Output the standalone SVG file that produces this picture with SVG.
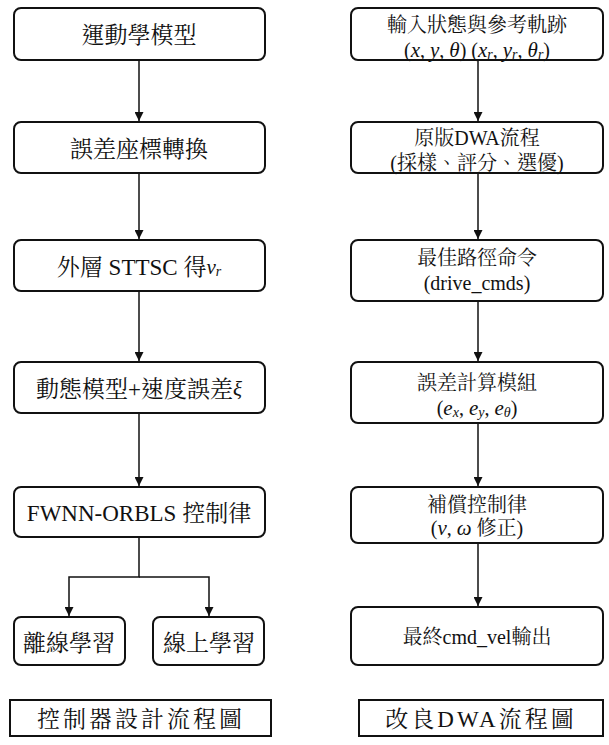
<svg xmlns="http://www.w3.org/2000/svg" width="609" height="745" viewBox="0 0 609 745">
<style>
.box{fill:#fff;stroke:#111;stroke-width:2}
.cap{fill:#fff;stroke:#111;stroke-width:2}
.t{font-family:"Liberation Serif","Noto Serif CJK TC","Noto Sans CJK TC",serif;fill:#111;text-anchor:middle;dominant-baseline:central}
.e{font-family:"Liberation Serif",serif}
.l{font-size:23px}
.r{font-size:20px}
.c{font-size:23px;letter-spacing:3px}
.m{font-family:"Liberation Serif",serif;font-style:italic;font-size:21px}
.s{font-family:"Liberation Serif",serif;font-size:14px;font-style:italic}
.line{stroke:#111;stroke-width:1.5;fill:none}
</style>
<defs>
<marker id="ah" viewBox="0 0 10 10" refX="10" refY="5" markerWidth="9" markerHeight="9" markerUnits="userSpaceOnUse" orient="auto">
<path d="M0,0 L10,5 L0,10 z" fill="#111"/>
</marker>
</defs>
<rect width="609" height="745" fill="#fff"/>
<g id="connectors">
<line class="line" x1="139" y1="60" x2="139" y2="121" marker-end="url(#ah)"/>
<line class="line" x1="139" y1="173" x2="139" y2="239" marker-end="url(#ah)"/>
<line class="line" x1="139" y1="291" x2="139" y2="361" marker-end="url(#ah)"/>
<line class="line" x1="139" y1="413" x2="139" y2="486" marker-end="url(#ah)"/>
<polyline class="line" points="139,537 139,577 69,577 69,616" marker-end="url(#ah)"/>
<polyline class="line" points="139,577 209,577 209,616" marker-end="url(#ah)"/>
<line class="line" x1="478" y1="60" x2="478" y2="121" marker-end="url(#ah)"/>
<line class="line" x1="478" y1="173" x2="478" y2="239" marker-end="url(#ah)"/>
<line class="line" x1="478" y1="301" x2="478" y2="361" marker-end="url(#ah)"/>
<line class="line" x1="478" y1="423" x2="478" y2="486" marker-end="url(#ah)"/>
<line class="line" x1="478" y1="543" x2="478" y2="606" marker-end="url(#ah)"/>
</g>
<g id="L1"><rect class="box" x="14" y="8" width="251" height="52" rx="7"/><text class="t l" x="139" y="35">運動學模型</text></g>
<g id="L2"><rect class="box" x="14" y="122" width="251" height="51" rx="7"/><text class="t l" x="139" y="149">誤差座標轉換</text></g>
<g id="L3"><rect class="box" x="14" y="240" width="251" height="51" rx="7"/><text class="t l" x="139" y="267">外層<tspan class="e"> STTSC </tspan>得<tspan class="m">v</tspan><tspan class="s" dy="4">r</tspan></text></g>
<g id="L4"><rect class="box" x="14" y="362" width="251" height="51" rx="7"/><text class="t l" x="139" y="389">動態模型<tspan class="e">+</tspan>速度誤差<tspan class="m">ξ</tspan></text></g>
<g id="L5"><rect class="box" x="14" y="487" width="251" height="50" rx="7"/><text class="t l" x="139" y="513"><tspan class="e">FWNN-ORBLS </tspan>控制律</text></g>
<g id="L6"><rect class="box" x="14" y="617" width="111" height="48" rx="7"/><text class="t l" x="69" y="643">離線學習</text></g>
<g id="L7"><rect class="box" x="153" y="617" width="111" height="48" rx="7"/><text class="t l" x="209" y="643">線上學習</text></g>
<g id="capL"><rect class="cap" x="10" y="700" width="261" height="36"/><text class="t c" x="141" y="719">控制器設計流程圖</text></g>
<g id="R1"><rect class="box" x="351" y="8" width="252" height="52" rx="7"/><text class="t r" x="477" y="25">輸入狀態與參考軌跡</text><text class="t r" x="477" y="50"><tspan class="e">(</tspan><tspan class="m">x</tspan><tspan class="e">, </tspan><tspan class="m">y</tspan><tspan class="e">, </tspan><tspan class="m">θ</tspan><tspan class="e">) (</tspan><tspan class="m">x</tspan><tspan class="s" dy="4">r</tspan><tspan class="e" dy="-4">, </tspan><tspan class="m">y</tspan><tspan class="s" dy="4">r</tspan><tspan class="e" dy="-4">, </tspan><tspan class="m">θ</tspan><tspan class="s" dy="4">r</tspan><tspan class="e" dy="-4">)</tspan></text></g>
<g id="R2"><rect class="box" x="351" y="122" width="252" height="51" rx="7"/><text class="t r" x="477" y="138">原版<tspan class="e">DWA</tspan>流程</text><text class="t r" x="477" y="163"><tspan class="e">(</tspan>採樣、評分、選優<tspan class="e">)</tspan></text></g>
<g id="R3"><rect class="box" x="351" y="240" width="252" height="61" rx="7"/><text class="t r" x="477" y="258">最佳路徑命令</text><text class="t r e" x="477" y="283">(drive_cmds)</text></g>
<g id="R4"><rect class="box" x="351" y="362" width="252" height="61" rx="7"/><text class="t r" x="477" y="383">誤差計算模組</text><text class="t r" x="477" y="408"><tspan class="e">(</tspan><tspan class="m">e</tspan><tspan class="s" dy="4">x</tspan><tspan class="e" dy="-4">, </tspan><tspan class="m">e</tspan><tspan class="s" dy="4">y</tspan><tspan class="e" dy="-4">, </tspan><tspan class="m">e</tspan><tspan class="s" dy="4">θ</tspan><tspan class="e" dy="-4">)</tspan></text></g>
<g id="R5"><rect class="box" x="351" y="487" width="252" height="56" rx="7"/><text class="t r" x="477" y="505">補償控制律</text><text class="t r" x="477" y="528"><tspan class="e">(</tspan><tspan class="m">v</tspan><tspan class="e">, </tspan><tspan class="m">ω</tspan><tspan class="e"> </tspan>修正<tspan class="e">)</tspan></text></g>
<g id="R6"><rect class="box" x="351" y="607" width="252" height="58" rx="7"/><text class="t r" x="477" y="637">最終<tspan class="e">cmd_vel</tspan>輸出</text></g>
<g id="capR"><rect class="cap" x="359" y="700" width="244" height="36"/><text class="t c" x="481" y="719">改良<tspan class="e">DWA</tspan>流程圖</text></g>
</svg>
